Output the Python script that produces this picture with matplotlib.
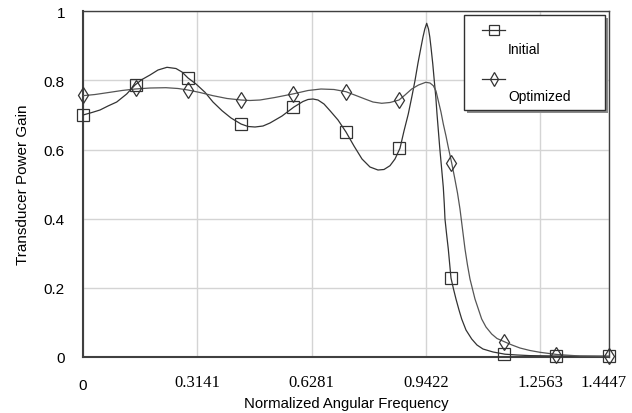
import matplotlib
matplotlib.use("Agg")
import matplotlib.pyplot as plt
from matplotlib.lines import Line2D
from matplotlib.patches import Rectangle
from matplotlib.transforms import ScaledTranslation

# ---------------- data ----------------
x_ticks = [0, 0.3141, 0.6281, 0.9422, 1.2563, 1.4447]
x_tick_labels = ["0", "0.3141", "0.6281", "0.9422", "1.2563", "1.4447"]
y_ticks = [0, 0.2, 0.4, 0.6, 0.8, 1.0]
y_tick_labels = ["0", "0.2", "0.4", "0.6", "0.8", "1"]

marker_x = [0, 0.1445, 0.2889, 0.4334, 0.5779, 0.7224, 0.8668, 1.0113, 1.1558, 1.3002, 1.4447]
initial_markers = [0.700, 0.787, 0.807, 0.674, 0.723, 0.651, 0.604, 0.229, 0.010, 0.003, 0.002]
optimized_markers = [0.757, 0.777, 0.773, 0.743, 0.762, 0.767, 0.743, 0.561, 0.044, 0.006, 0.002]

initial_x = [0, 0.0247, 0.0467, 0.0687, 0.0926, 0.1200, 0.1428, 0.1620, 0.1840, 0.2060,
             0.2307, 0.2554, 0.2719, 0.2884, 0.3104, 0.3351, 0.3570, 0.3818, 0.4065, 0.4340,
             0.4532, 0.4724, 0.4944, 0.5136, 0.5466, 0.5795, 0.6042, 0.6180, 0.6317, 0.6454,
             0.6619, 0.6784, 0.7004, 0.7223, 0.7443, 0.7663, 0.7882, 0.8102, 0.8267, 0.8432,
             0.8569, 0.8706, 0.8816, 0.8934, 0.9036, 0.9118, 0.9201, 0.9283, 0.9338, 0.9388,
             0.9440, 0.9489, 0.9525, 0.9558, 0.9607, 0.9648, 0.9690, 0.9723, 0.9761, 0.9797,
             0.9846, 0.9896, 0.9923, 0.9942, 0.9986, 1.0033, 1.0071, 1.0107, 1.0176, 1.0244,
             1.0327, 1.0401, 1.0519, 1.0676, 1.0821, 1.0986, 1.1261, 1.1590, 1.1920, 1.2277,
             1.3018, 1.3733, 1.4447]
initial_y = [0.7000, 0.7073, 0.7145, 0.7261, 0.7376, 0.7608, 0.7868, 0.8027, 0.8157, 0.8302,
             0.8380, 0.8345, 0.8244, 0.8071, 0.7897, 0.7657, 0.7376, 0.7125, 0.6914, 0.6740,
             0.6668, 0.6653, 0.6682, 0.6769, 0.6971, 0.7232, 0.7391, 0.7449, 0.7463, 0.7434,
             0.7319, 0.7125, 0.6856, 0.6509, 0.6104, 0.5728, 0.5496, 0.5409, 0.5424, 0.5534,
             0.5728, 0.6037, 0.6537, 0.7029, 0.7550, 0.7993, 0.8505, 0.8959, 0.9257, 0.9488,
             0.9653, 0.9488, 0.9257, 0.8959, 0.8476, 0.7993, 0.7521, 0.7029, 0.6537, 0.6066,
             0.5496, 0.4909, 0.4426, 0.3992, 0.3558, 0.3124, 0.2690, 0.2285, 0.1967, 0.1678,
             0.1360, 0.1099, 0.0781, 0.0521, 0.0347, 0.0231, 0.0145, 0.0081, 0.0058, 0.0040,
             0.0029, 0.0023, 0.0020]

optimized_x = [0, 0.0330, 0.0742, 0.1071, 0.1428, 0.1840, 0.2280, 0.2609, 0.2884, 0.3213,
               0.3570, 0.3955, 0.4340, 0.4587, 0.4861, 0.5273, 0.5795, 0.6180, 0.6537, 0.6894,
               0.7223, 0.7498, 0.7745, 0.7965, 0.8204, 0.8432, 0.8679, 0.8844, 0.9028, 0.9215,
               0.9412, 0.9530, 0.9621, 0.9695, 0.9758, 0.9832, 0.9896, 0.9970, 1.0033, 1.0126,
               1.0203, 1.0286, 1.0354, 1.0423, 1.0492, 1.0560, 1.0629, 1.0766, 1.0950, 1.1068,
               1.1225, 1.1371, 1.1571, 1.1783, 1.2002, 1.2277, 1.2551, 1.3018, 1.3650, 1.4447]
optimized_y = [0.7559, 0.7593, 0.7657, 0.7709, 0.7752, 0.7781, 0.7790, 0.7767, 0.7723, 0.7651,
               0.7559, 0.7478, 0.7434, 0.7420, 0.7434, 0.7507, 0.7616, 0.7709, 0.7752, 0.7738,
               0.7674, 0.7564, 0.7463, 0.7376, 0.7339, 0.7362, 0.7434, 0.7579, 0.7752, 0.7868,
               0.7946, 0.7926, 0.7848, 0.7695, 0.7414, 0.7087, 0.6740, 0.6393, 0.6066, 0.5612,
               0.5207, 0.4744, 0.4281, 0.3703, 0.3124, 0.2661, 0.2256, 0.1678, 0.1099, 0.0868,
               0.0665, 0.0535, 0.0443, 0.0347, 0.0260, 0.0188, 0.0136, 0.0072, 0.0029, 0.0020]

series_names = ["Initial", "Optimized"]

# ---------------- figure ----------------
W, H = 632, 414
fig = plt.figure(figsize=(W / 100, H / 100), dpi=100)
ax = fig.add_axes([83 / W, 1 - 358 / H, (609 - 83) / W, (358 - 12.3) / H])

c_init = "#333333"
c_opt = "#555555"
mk_edge = "#333333"

ax.plot(initial_x, initial_y, color=c_init, lw=0.9, zorder=3, solid_joinstyle="round")
ax.plot(optimized_x, optimized_y, color=c_opt, lw=0.9, zorder=3, solid_joinstyle="round")
ax.plot(marker_x, initial_markers, ls="none", marker="s", ms=8.5, mfc="none",
        mec=mk_edge, mew=0.9, zorder=4, clip_on=False)
ax.plot(marker_x, optimized_markers, ls="none", marker="d", ms=8, mfc="none",
        mec=mk_edge, mew=0.9, zorder=4, clip_on=False)

ax.set_xlim(0, 1.4447)
ax.set_ylim(0, 1)
ax.set_xticks(x_ticks)
ax.set_xticklabels(x_tick_labels)
ax.set_yticks(y_ticks)
ax.set_yticklabels(y_tick_labels)
ax.grid(True, color="#d4d4d4", lw=1.0)
ax.set_axisbelow(True)
ax.tick_params(length=0)
ax.tick_params(axis="y", pad=13)
ax.tick_params(axis="x", pad=12)

for lab in ax.get_yticklabels():
    lab.set_fontfamily("Liberation Sans")
    lab.set_fontsize(11)
for i, lab in enumerate(ax.get_xticklabels()):
    if i == 0:
        lab.set_fontfamily("Liberation Sans")
        lab.set_fontsize(11)
        lab.set_transform(lab.get_transform() + ScaledTranslation(0, -3 / 72, fig.dpi_scale_trans))
    else:
        lab.set_fontfamily("Liberation Serif")
        lab.set_fontsize(12)
    if i == len(x_ticks) - 1:
        lab.set_transform(lab.get_transform() + ScaledTranslation(-5 / 100, 0, fig.dpi_scale_trans))

for side in ["left", "bottom"]:
    ax.spines[side].set_color("#404040")
    ax.spines[side].set_linewidth(1.5)
for side in ["top", "right"]:
    ax.spines[side].set_color("#404040")
    ax.spines[side].set_linewidth(1.0)

ax.set_xlabel("Normalized Angular Frequency", fontfamily="Liberation Sans", fontsize=10.7, labelpad=3)
ax.set_ylabel("Transducer Power Gain", fontfamily="Liberation Sans", fontsize=11, labelpad=10)

# ---------------- legend (custom layout) ----------------
def fx(px):
    return px / W

def fy(py):
    return 1 - py / H

bx0, bx1, by0, by1 = 464, 605, 16, 111
fig.add_artist(Rectangle((fx(bx0 + 3), fy(by1 + 3)), fx(bx1 - bx0), (by1 - by0) / H,
                         transform=fig.transFigure, facecolor="#8a8a8a", edgecolor="none", zorder=5))
fig.add_artist(Rectangle((fx(bx0), fy(by1)), fx(bx1 - bx0), (by1 - by0) / H,
                         transform=fig.transFigure, facecolor="white", edgecolor="#303030",
                         lw=1.0, zorder=6))

entries = [("s", 31, 49.5, series_names[0], 7.0), ("d", 80, 97, series_names[1], 7.0)]
for mk, ly, ty, name, ms in entries:
    fig.add_artist(Line2D([fx(482), fx(505)], [fy(ly), fy(ly)], transform=fig.transFigure,
                          color="#333333", lw=0.9, zorder=7))
    fig.add_artist(Line2D([fx(493.5)], [fy(ly)], transform=fig.transFigure, marker=mk, ms=ms,
                          mfc="none", mec="#333333", mew=0.9, ls="none", zorder=8))
    fig.text(fx(508), fy(ty), name, fontfamily="Liberation Sans", fontsize=10,
             ha="left", va="center", zorder=8)

fig.savefig("out.png", dpi=100)
